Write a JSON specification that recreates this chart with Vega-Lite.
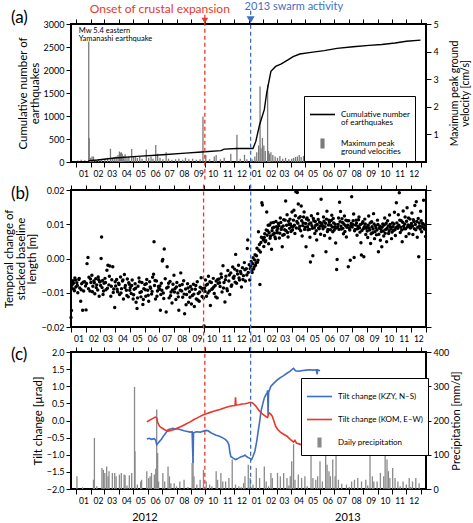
{
  "$schema": "https://vega.github.io/schema/vega-lite/v6.json",
  "background": "white",
  "padding": {"left": 2, "top": 0, "right": 0, "bottom": 0},
  "config": {
    "font": "Lato",
    "view": {"stroke": "black", "strokeWidth": 2},
    "axis": {"domain": false, "grid": false, "tickColor": "black", "tickSize": 5, "tickWidth": 1, "labelColor": "black", "labelFontSize": 9, "titleColor": "black", "titleFontWeight": "normal", "titleFontSize": 11.5, "titleLineHeight": 11.5, "labelPadding": 2, "titlePadding": 3},
    "title": {"anchor": "start", "frame": "group", "dx": -60, "fontSize": 17, "fontWeight": "normal", "color": "black"},
    "legend": {"orient": "none", "strokeColor": "black", "strokeWidth": 1, "fillColor": "white", "padding": 5, "symbolSize": 625, "symbolStrokeWidth": 1.6, "labelFontSize": 8, "labelLimit": 300, "labelOffset": 5, "rowPadding": 3, "labelColor": "black"}
  },
  "datasets": {
    "events": [
      {"event": "onset", "date": "2012-09-30", "label": "Onset of crustal expansion"},
      {"event": "swarm", "date": "2013-01-05", "label": "2013 swarm activity"}
    ],
    "notes": [{"date": "2012-01-28", "label": ["Mw 5.4 eastern", "Yamanashi earthquake"]}],
    "cum": [
      {"date": "2012-01-01", "n": 0}, {"date": "2012-01-27", "n": 10}, {"date": "2012-01-29", "n": 30}, {"date": "2012-02-15", "n": 45},
      {"date": "2012-03-23", "n": 87}, {"date": "2012-05-10", "n": 123}, {"date": "2012-07-03", "n": 159}, {"date": "2012-08-20", "n": 192},
      {"date": "2012-09-23", "n": 217}, {"date": "2012-11-03", "n": 247}, {"date": "2012-11-10", "n": 280}, {"date": "2012-12-07", "n": 292},
      {"date": "2013-01-10", "n": 292}, {"date": "2013-01-16", "n": 448}, {"date": "2013-01-24", "n": 811}, {"date": "2013-02-03", "n": 1137},
      {"date": "2013-02-08", "n": 1500}, {"date": "2013-02-17", "n": 1970}, {"date": "2013-02-27", "n": 2078}, {"date": "2013-03-10", "n": 2130},
      {"date": "2013-03-26", "n": 2224}, {"date": "2013-04-05", "n": 2290}, {"date": "2013-04-19", "n": 2348}, {"date": "2013-05-13", "n": 2383},
      {"date": "2013-06-10", "n": 2420}, {"date": "2013-07-07", "n": 2470}, {"date": "2013-08-10", "n": 2505}, {"date": "2013-09-13", "n": 2535},
      {"date": "2013-10-10", "n": 2555}, {"date": "2013-11-07", "n": 2587}, {"date": "2013-12-01", "n": 2625}, {"date": "2013-12-31", "n": 2650}
    ],
    "pgv": [
      {"date": "2012-01-05", "pgv": 0.05}, {"date": "2012-01-12", "pgv": 0.08}, {"date": "2012-01-20", "pgv": 0.06}, {"date": "2012-01-28", "pgv": 4.37}, {"date": "2012-01-29", "pgv": 0.87},
      {"date": "2012-02-01", "pgv": 0.15}, {"date": "2012-02-04", "pgv": 0.2}, {"date": "2012-02-07", "pgv": 0.2}, {"date": "2012-02-12", "pgv": 0.08}, {"date": "2012-02-18", "pgv": 0.1},
      {"date": "2012-02-24", "pgv": 0.07}, {"date": "2012-03-02", "pgv": 0.12}, {"date": "2012-03-08", "pgv": 0.15}, {"date": "2012-03-14", "pgv": 0.48}, {"date": "2012-03-18", "pgv": 0.12},
      {"date": "2012-03-22", "pgv": 0.18}, {"date": "2012-03-26", "pgv": 0.2}, {"date": "2012-03-30", "pgv": 0.25}, {"date": "2012-04-02", "pgv": 0.38}, {"date": "2012-04-04", "pgv": 0.33},
      {"date": "2012-04-06", "pgv": 0.35}, {"date": "2012-04-08", "pgv": 0.3}, {"date": "2012-04-11", "pgv": 0.22}, {"date": "2012-04-14", "pgv": 0.28}, {"date": "2012-04-18", "pgv": 0.15},
      {"date": "2012-04-22", "pgv": 0.2}, {"date": "2012-04-28", "pgv": 0.47}, {"date": "2012-05-02", "pgv": 0.2}, {"date": "2012-05-06", "pgv": 0.22}, {"date": "2012-05-10", "pgv": 0.15},
      {"date": "2012-05-15", "pgv": 0.18}, {"date": "2012-05-20", "pgv": 0.12}, {"date": "2012-05-29", "pgv": 0.45}, {"date": "2012-06-03", "pgv": 0.15}, {"date": "2012-06-08", "pgv": 0.2},
      {"date": "2012-06-12", "pgv": 0.12}, {"date": "2012-06-18", "pgv": 0.62}, {"date": "2012-06-22", "pgv": 0.3}, {"date": "2012-06-27", "pgv": 0.15}, {"date": "2012-07-03", "pgv": 0.1},
      {"date": "2012-07-10", "pgv": 0.35}, {"date": "2012-07-15", "pgv": 0.12}, {"date": "2012-07-22", "pgv": 0.08}, {"date": "2012-07-30", "pgv": 0.1}, {"date": "2012-08-06", "pgv": 0.12},
      {"date": "2012-08-14", "pgv": 0.08}, {"date": "2012-08-20", "pgv": 0.15}, {"date": "2012-08-27", "pgv": 0.1}, {"date": "2012-09-04", "pgv": 0.12}, {"date": "2012-09-12", "pgv": 0.08},
      {"date": "2012-09-20", "pgv": 0.1}, {"date": "2012-09-26", "pgv": 1.65}, {"date": "2012-10-02", "pgv": 0.25}, {"date": "2012-10-10", "pgv": 0.1}, {"date": "2012-10-20", "pgv": 0.2},
      {"date": "2012-10-24", "pgv": 0.25}, {"date": "2012-11-02", "pgv": 0.1}, {"date": "2012-11-10", "pgv": 0.15}, {"date": "2012-11-24", "pgv": 0.3}, {"date": "2012-12-07", "pgv": 0.99},
      {"date": "2012-12-14", "pgv": 0.12}, {"date": "2012-12-23", "pgv": 0.26}, {"date": "2012-12-28", "pgv": 0.1},
      {"date": "2013-01-08", "pgv": 0.1}, {"date": "2013-01-14", "pgv": 0.2}, {"date": "2013-01-18", "pgv": 0.35}, {"date": "2013-01-22", "pgv": 0.6}, {"date": "2013-01-25", "pgv": 2.74},
      {"date": "2013-01-27", "pgv": 0.5}, {"date": "2013-01-30", "pgv": 0.87}, {"date": "2013-02-02", "pgv": 0.6}, {"date": "2013-02-05", "pgv": 0.4}, {"date": "2013-02-10", "pgv": 2.8},
      {"date": "2013-02-12", "pgv": 0.4}, {"date": "2013-02-14", "pgv": 0.3}, {"date": "2013-02-17", "pgv": 0.35}, {"date": "2013-02-21", "pgv": 0.25}, {"date": "2013-02-26", "pgv": 0.2},
      {"date": "2013-03-03", "pgv": 0.15}, {"date": "2013-03-08", "pgv": 0.22}, {"date": "2013-03-14", "pgv": 0.12}, {"date": "2013-03-20", "pgv": 0.15}, {"date": "2013-03-27", "pgv": 0.1},
      {"date": "2013-04-02", "pgv": 0.12}, {"date": "2013-04-06", "pgv": 0.15}, {"date": "2013-04-10", "pgv": 0.18}, {"date": "2013-04-14", "pgv": 0.2}, {"date": "2013-04-18", "pgv": 0.25},
      {"date": "2013-04-22", "pgv": 0.18}, {"date": "2013-04-27", "pgv": 0.22}, {"date": "2013-05-03", "pgv": 0.12}, {"date": "2013-05-10", "pgv": 0.1}, {"date": "2013-05-18", "pgv": 0.08},
      {"date": "2013-05-26", "pgv": 0.12}, {"date": "2013-06-03", "pgv": 0.1}, {"date": "2013-06-10", "pgv": 0.08}, {"date": "2013-06-15", "pgv": 0.22}, {"date": "2013-06-22", "pgv": 0.1},
      {"date": "2013-07-01", "pgv": 0.15}, {"date": "2013-07-07", "pgv": 0.4}, {"date": "2013-07-12", "pgv": 0.15}, {"date": "2013-07-16", "pgv": 0.32}, {"date": "2013-07-22", "pgv": 0.2},
      {"date": "2013-07-26", "pgv": 0.32}, {"date": "2013-08-01", "pgv": 0.38}, {"date": "2013-08-08", "pgv": 0.12}, {"date": "2013-08-16", "pgv": 0.1}, {"date": "2013-08-24", "pgv": 0.15},
      {"date": "2013-09-02", "pgv": 0.2}, {"date": "2013-09-08", "pgv": 0.38}, {"date": "2013-09-12", "pgv": 0.25}, {"date": "2013-09-20", "pgv": 0.1}, {"date": "2013-10-01", "pgv": 0.2},
      {"date": "2013-10-08", "pgv": 0.1}, {"date": "2013-10-18", "pgv": 0.08}, {"date": "2013-11-01", "pgv": 0.1}, {"date": "2013-11-15", "pgv": 0.08}, {"date": "2013-12-01", "pgv": 0.1},
      {"date": "2013-12-18", "pgv": 0.08}
    ],
    "base": [
      {"date": "2012-01-01", "v": -0.0172}, {"date": "2012-01-02", "v": -0.0152}, {"date": "2012-01-03", "v": -0.0078}, {"date": "2012-01-05", "v": -0.0065}, {"date": "2012-01-07", "v": -0.0090}, {"date": "2012-01-09", "v": -0.0057}, {"date": "2012-01-11", "v": -0.0083}, {"date": "2012-01-13", "v": -0.0071}, {"date": "2012-01-15", "v": -0.0100}, {"date": "2012-01-17", "v": -0.0061}, {"date": "2012-01-19", "v": -0.0086}, {"date": "2012-01-21", "v": -0.0125}, {"date": "2012-01-23", "v": -0.0074}, {"date": "2012-01-25", "v": -0.0151}, {"date": "2012-01-27", "v": -0.0095}, {"date": "2012-01-29", "v": -0.0068}, {"date": "2012-01-31", "v": -0.0080},
      {"date": "2012-02-01", "v": -0.0150}, {"date": "2012-02-03", "v": -0.0015}, {"date": "2012-02-05", "v": 0.0003}, {"date": "2012-02-07", "v": -0.0055}, {"date": "2012-02-09", "v": -0.0095}, {"date": "2012-02-11", "v": -0.0070}, {"date": "2012-02-13", "v": -0.0049}, {"date": "2012-02-15", "v": -0.0081}, {"date": "2012-02-17", "v": -0.0066}, {"date": "2012-02-19", "v": -0.0103}, {"date": "2012-02-21", "v": -0.0059}, {"date": "2012-02-23", "v": -0.0077}, {"date": "2012-02-25", "v": -0.0092}, {"date": "2012-02-27", "v": -0.0062}, {"date": "2012-02-29", "v": -0.0068},
      {"date": "2012-03-01", "v": -0.0068}, {"date": "2012-03-03", "v": 0.0000}, {"date": "2012-03-04", "v": 0.0063}, {"date": "2012-03-05", "v": -0.0085}, {"date": "2012-03-07", "v": -0.0105}, {"date": "2012-03-09", "v": -0.0072}, {"date": "2012-03-11", "v": -0.0058}, {"date": "2012-03-13", "v": -0.0091}, {"date": "2012-03-15", "v": -0.0034}, {"date": "2012-03-17", "v": -0.0020}, {"date": "2012-03-19", "v": -0.0077}, {"date": "2012-03-21", "v": -0.0022}, {"date": "2012-03-23", "v": -0.0110}, {"date": "2012-03-25", "v": -0.0062}, {"date": "2012-03-27", "v": -0.0024}, {"date": "2012-03-29", "v": -0.0089}, {"date": "2012-03-31", "v": -0.0143},
      {"date": "2012-04-02", "v": -0.0080}, {"date": "2012-04-04", "v": -0.0061}, {"date": "2012-04-06", "v": -0.0097}, {"date": "2012-04-08", "v": -0.0072}, {"date": "2012-04-10", "v": -0.0105}, {"date": "2012-04-12", "v": -0.0054}, {"date": "2012-04-14", "v": -0.0088}, {"date": "2012-04-16", "v": -0.0066}, {"date": "2012-04-18", "v": -0.0118}, {"date": "2012-04-20", "v": -0.0047}, {"date": "2012-04-22", "v": -0.0079}, {"date": "2012-04-24", "v": -0.0093}, {"date": "2012-04-26", "v": -0.0060}, {"date": "2012-04-28", "v": -0.0112}, {"date": "2012-04-30", "v": -0.0075},
      {"date": "2012-05-02", "v": -0.0085}, {"date": "2012-05-04", "v": -0.0102}, {"date": "2012-05-06", "v": -0.0063}, {"date": "2012-05-08", "v": -0.0118}, {"date": "2012-05-10", "v": -0.0090}, {"date": "2012-05-12", "v": -0.0074}, {"date": "2012-05-14", "v": -0.0128}, {"date": "2012-05-16", "v": -0.0146}, {"date": "2012-05-18", "v": -0.0081}, {"date": "2012-05-20", "v": -0.0057}, {"date": "2012-05-22", "v": -0.0099}, {"date": "2012-05-24", "v": -0.0112}, {"date": "2012-05-26", "v": -0.0070}, {"date": "2012-05-28", "v": -0.0134}, {"date": "2012-05-30", "v": -0.0088},
      {"date": "2012-06-01", "v": -0.0076}, {"date": "2012-06-03", "v": -0.0110}, {"date": "2012-06-05", "v": -0.0061}, {"date": "2012-06-07", "v": -0.0093}, {"date": "2012-06-09", "v": -0.0125}, {"date": "2012-06-11", "v": -0.0068}, {"date": "2012-06-13", "v": -0.0087}, {"date": "2012-06-15", "v": -0.0104}, {"date": "2012-06-17", "v": -0.0055}, {"date": "2012-06-19", "v": -0.0046}, {"date": "2012-06-20", "v": 0.0049}, {"date": "2012-06-21", "v": -0.0079}, {"date": "2012-06-23", "v": -0.0118}, {"date": "2012-06-25", "v": -0.0066}, {"date": "2012-06-27", "v": -0.0095}, {"date": "2012-06-29", "v": -0.0082},
      {"date": "2012-07-01", "v": -0.0090}, {"date": "2012-07-03", "v": -0.0151}, {"date": "2012-07-05", "v": -0.0072}, {"date": "2012-07-07", "v": -0.0007}, {"date": "2012-07-08", "v": -0.0003}, {"date": "2012-07-09", "v": -0.0101}, {"date": "2012-07-11", "v": 0.0028}, {"date": "2012-07-13", "v": -0.0059}, {"date": "2012-07-15", "v": -0.0156}, {"date": "2012-07-17", "v": -0.0024}, {"date": "2012-07-19", "v": -0.0083}, {"date": "2012-07-21", "v": -0.0115}, {"date": "2012-07-23", "v": -0.0067}, {"date": "2012-07-25", "v": -0.0098}, {"date": "2012-07-27", "v": -0.0130}, {"date": "2012-07-29", "v": -0.0075}, {"date": "2012-07-31", "v": -0.0049},
      {"date": "2012-08-02", "v": -0.0088}, {"date": "2012-08-04", "v": -0.0120}, {"date": "2012-08-06", "v": -0.0070}, {"date": "2012-08-08", "v": -0.0101}, {"date": "2012-08-10", "v": -0.0151}, {"date": "2012-08-12", "v": -0.0079}, {"date": "2012-08-14", "v": -0.0042}, {"date": "2012-08-16", "v": -0.0095}, {"date": "2012-08-18", "v": -0.0113}, {"date": "2012-08-20", "v": -0.0065}, {"date": "2012-08-22", "v": -0.0161}, {"date": "2012-08-24", "v": -0.0089}, {"date": "2012-08-26", "v": -0.0105}, {"date": "2012-08-28", "v": -0.0074}, {"date": "2012-08-30", "v": -0.0128},
      {"date": "2012-09-01", "v": -0.0097}, {"date": "2012-09-03", "v": -0.0082}, {"date": "2012-09-05", "v": -0.0133}, {"date": "2012-09-07", "v": -0.0108}, {"date": "2012-09-09", "v": -0.0075}, {"date": "2012-09-11", "v": -0.0140}, {"date": "2012-09-13", "v": -0.0090}, {"date": "2012-09-15", "v": -0.0118}, {"date": "2012-09-17", "v": -0.0068}, {"date": "2012-09-19", "v": -0.0102}, {"date": "2012-09-21", "v": -0.0125}, {"date": "2012-09-23", "v": -0.0084}, {"date": "2012-09-25", "v": -0.0056}, {"date": "2012-09-27", "v": -0.0111}, {"date": "2012-09-29", "v": -0.0093},
      {"date": "2012-10-01", "v": -0.0197}, {"date": "2012-10-02", "v": -0.0087}, {"date": "2012-10-04", "v": -0.0063}, {"date": "2012-10-06", "v": -0.0110}, {"date": "2012-10-08", "v": -0.0075}, {"date": "2012-10-10", "v": -0.0052}, {"date": "2012-10-12", "v": -0.0095}, {"date": "2012-10-14", "v": -0.0137}, {"date": "2012-10-16", "v": -0.0070}, {"date": "2012-10-18", "v": -0.0088}, {"date": "2012-10-20", "v": -0.0058}, {"date": "2012-10-22", "v": -0.0102}, {"date": "2012-10-24", "v": -0.0079}, {"date": "2012-10-26", "v": -0.0066}, {"date": "2012-10-28", "v": -0.0115}, {"date": "2012-10-30", "v": -0.0072},
      {"date": "2012-11-01", "v": -0.0060}, {"date": "2012-11-03", "v": -0.0082}, {"date": "2012-11-05", "v": -0.0045}, {"date": "2012-11-07", "v": -0.0098}, {"date": "2012-11-09", "v": -0.0021}, {"date": "2012-11-11", "v": -0.0070}, {"date": "2012-11-13", "v": -0.0127}, {"date": "2012-11-15", "v": -0.0052}, {"date": "2012-11-17", "v": -0.0088}, {"date": "2012-11-19", "v": -0.0035}, {"date": "2012-11-21", "v": -0.0066}, {"date": "2012-11-23", "v": -0.0105}, {"date": "2012-11-25", "v": -0.0042}, {"date": "2012-11-27", "v": -0.0077}, {"date": "2012-11-29", "v": -0.0025},
      {"date": "2012-12-01", "v": -0.0058}, {"date": "2012-12-03", "v": -0.0031}, {"date": "2012-12-05", "v": 0.0012}, {"date": "2012-12-07", "v": -0.0072}, {"date": "2012-12-09", "v": -0.0045}, {"date": "2012-12-11", "v": -0.0020}, {"date": "2012-12-13", "v": -0.0063}, {"date": "2012-12-15", "v": -0.0038}, {"date": "2012-12-17", "v": -0.0083}, {"date": "2012-12-19", "v": -0.0027}, {"date": "2012-12-21", "v": -0.0050}, {"date": "2012-12-23", "v": -0.0012}, {"date": "2012-12-25", "v": -0.0066}, {"date": "2012-12-27", "v": -0.0030}, {"date": "2012-12-29", "v": 0.0029}, {"date": "2012-12-30", "v": 0.0054}, {"date": "2012-12-31", "v": -0.0041},
      {"date": "2013-01-02", "v": -0.0018}, {"date": "2013-01-03", "v": -0.0063}, {"date": "2013-01-04", "v": -0.0030}, {"date": "2013-01-06", "v": -0.0009}, {"date": "2013-01-08", "v": -0.0041}, {"date": "2013-01-10", "v": 0.0002}, {"date": "2013-01-12", "v": -0.0025}, {"date": "2013-01-14", "v": 0.0011}, {"date": "2013-01-16", "v": -0.0012}, {"date": "2013-01-18", "v": 0.0030}, {"date": "2013-01-20", "v": -0.0005}, {"date": "2013-01-21", "v": 0.0078}, {"date": "2013-01-22", "v": 0.0024}, {"date": "2013-01-24", "v": -0.0076}, {"date": "2013-01-26", "v": 0.0047}, {"date": "2013-01-28", "v": 0.0163}, {"date": "2013-01-29", "v": 0.0156}, {"date": "2013-01-30", "v": 0.0060},
      {"date": "2013-02-01", "v": 0.0035}, {"date": "2013-02-03", "v": 0.0072}, {"date": "2013-02-05", "v": 0.0052}, {"date": "2013-02-07", "v": 0.0136}, {"date": "2013-02-09", "v": 0.0081}, {"date": "2013-02-11", "v": 0.0043}, {"date": "2013-02-13", "v": 0.0098}, {"date": "2013-02-15", "v": 0.0066}, {"date": "2013-02-17", "v": 0.0027}, {"date": "2013-02-19", "v": 0.0089}, {"date": "2013-02-21", "v": 0.0105}, {"date": "2013-02-23", "v": 0.0074}, {"date": "2013-02-25", "v": 0.0058}, {"date": "2013-02-27", "v": 0.0093},
      {"date": "2013-03-01", "v": 0.0075}, {"date": "2013-03-03", "v": 0.0102}, {"date": "2013-03-05", "v": 0.0060}, {"date": "2013-03-07", "v": 0.0118}, {"date": "2013-03-09", "v": 0.0085}, {"date": "2013-03-11", "v": 0.0034}, {"date": "2013-03-13", "v": 0.0095}, {"date": "2013-03-15", "v": 0.0070}, {"date": "2013-03-17", "v": 0.0112}, {"date": "2013-03-18", "v": 0.0168}, {"date": "2013-03-19", "v": 0.0081}, {"date": "2013-03-21", "v": 0.0128}, {"date": "2013-03-23", "v": 0.0063}, {"date": "2013-03-25", "v": 0.0099}, {"date": "2013-03-27", "v": 0.0115}, {"date": "2013-03-29", "v": 0.0079}, {"date": "2013-03-31", "v": 0.0136},
      {"date": "2013-04-02", "v": 0.0092}, {"date": "2013-04-04", "v": 0.0141}, {"date": "2013-04-06", "v": 0.0073}, {"date": "2013-04-08", "v": 0.0195}, {"date": "2013-04-10", "v": 0.0108}, {"date": "2013-04-11", "v": 0.0193}, {"date": "2013-04-13", "v": 0.0159}, {"date": "2013-04-15", "v": 0.0087}, {"date": "2013-04-17", "v": 0.0122}, {"date": "2013-04-19", "v": 0.0153}, {"date": "2013-04-21", "v": 0.0066}, {"date": "2013-04-23", "v": 0.0104}, {"date": "2013-04-25", "v": 0.0136}, {"date": "2013-04-27", "v": 0.0091}, {"date": "2013-04-29", "v": 0.0034},
      {"date": "2013-05-01", "v": 0.0118}, {"date": "2013-05-03", "v": 0.0084}, {"date": "2013-05-05", "v": 0.0101}, {"date": "2013-05-07", "v": 0.0062}, {"date": "2013-05-08", "v": -0.0010}, {"date": "2013-05-10", "v": 0.0125}, {"date": "2013-05-12", "v": 0.0088}, {"date": "2013-05-13", "v": 0.0008}, {"date": "2013-05-15", "v": 0.0110}, {"date": "2013-05-17", "v": 0.0073}, {"date": "2013-05-19", "v": 0.0097}, {"date": "2013-05-21", "v": 0.0054}, {"date": "2013-05-23", "v": 0.0131}, {"date": "2013-05-25", "v": 0.0089}, {"date": "2013-05-27", "v": 0.0106}, {"date": "2013-05-29", "v": 0.0071}, {"date": "2013-05-30", "v": 0.0173},
      {"date": "2013-06-02", "v": 0.0094}, {"date": "2013-06-04", "v": 0.0121}, {"date": "2013-06-06", "v": 0.0067}, {"date": "2013-06-08", "v": 0.0103}, {"date": "2013-06-09", "v": 0.0020}, {"date": "2013-06-11", "v": 0.0138}, {"date": "2013-06-13", "v": 0.0085}, {"date": "2013-06-15", "v": 0.0112}, {"date": "2013-06-17", "v": 0.0059}, {"date": "2013-06-19", "v": 0.0097}, {"date": "2013-06-21", "v": 0.0126}, {"date": "2013-06-23", "v": 0.0078}, {"date": "2013-06-25", "v": 0.0104}, {"date": "2013-06-27", "v": 0.0091}, {"date": "2013-06-29", "v": 0.0045},
      {"date": "2013-07-01", "v": -0.0032}, {"date": "2013-07-02", "v": -0.0003}, {"date": "2013-07-03", "v": 0.0092}, {"date": "2013-07-05", "v": 0.0118}, {"date": "2013-07-07", "v": 0.0164}, {"date": "2013-07-09", "v": 0.0137}, {"date": "2013-07-11", "v": 0.0086}, {"date": "2013-07-13", "v": 0.0105}, {"date": "2013-07-15", "v": 0.0072}, {"date": "2013-07-17", "v": 0.0124}, {"date": "2013-07-19", "v": 0.0096}, {"date": "2013-07-21", "v": 0.0063}, {"date": "2013-07-23", "v": 0.0110}, {"date": "2013-07-25", "v": -0.0024}, {"date": "2013-07-27", "v": 0.0088}, {"date": "2013-07-29", "v": -0.0005}, {"date": "2013-07-31", "v": 0.0102},
      {"date": "2013-08-01", "v": 0.0180}, {"date": "2013-08-03", "v": 0.0099}, {"date": "2013-08-05", "v": 0.0130}, {"date": "2013-08-06", "v": 0.0003}, {"date": "2013-08-08", "v": 0.0085}, {"date": "2013-08-10", "v": 0.0112}, {"date": "2013-08-12", "v": 0.0068}, {"date": "2013-08-14", "v": 0.0094}, {"date": "2013-08-16", "v": 0.0121}, {"date": "2013-08-18", "v": 0.0077}, {"date": "2013-08-20", "v": 0.0046}, {"date": "2013-08-21", "v": 0.0010}, {"date": "2013-08-23", "v": 0.0103}, {"date": "2013-08-25", "v": 0.0087}, {"date": "2013-08-26", "v": 0.0005}, {"date": "2013-08-28", "v": 0.0115}, {"date": "2013-08-30", "v": 0.0070},
      {"date": "2013-09-01", "v": 0.0092}, {"date": "2013-09-03", "v": 0.0061}, {"date": "2013-09-05", "v": 0.0124}, {"date": "2013-09-07", "v": 0.0083}, {"date": "2013-09-09", "v": 0.0044}, {"date": "2013-09-11", "v": 0.0107}, {"date": "2013-09-13", "v": 0.0075}, {"date": "2013-09-15", "v": 0.0131}, {"date": "2013-09-17", "v": 0.0058}, {"date": "2013-09-19", "v": 0.0096}, {"date": "2013-09-21", "v": 0.0069}, {"date": "2013-09-23", "v": 0.0112}, {"date": "2013-09-25", "v": 0.0020}, {"date": "2013-09-27", "v": 0.0088}, {"date": "2013-09-29", "v": 0.0053},
      {"date": "2013-10-01", "v": 0.0079}, {"date": "2013-10-02", "v": 0.0034}, {"date": "2013-10-04", "v": 0.0101}, {"date": "2013-10-06", "v": 0.0066}, {"date": "2013-10-08", "v": 0.0118}, {"date": "2013-10-10", "v": 0.0085}, {"date": "2013-10-12", "v": 0.0049}, {"date": "2013-10-14", "v": 0.0110}, {"date": "2013-10-16", "v": 0.0073}, {"date": "2013-10-18", "v": 0.0127}, {"date": "2013-10-20", "v": 0.0091}, {"date": "2013-10-22", "v": 0.0058}, {"date": "2013-10-24", "v": 0.0104}, {"date": "2013-10-26", "v": 0.0082}, {"date": "2013-10-28", "v": 0.0135}, {"date": "2013-10-30", "v": 0.0067},
      {"date": "2013-11-01", "v": 0.0163}, {"date": "2013-11-03", "v": 0.0093}, {"date": "2013-11-05", "v": 0.0128}, {"date": "2013-11-07", "v": 0.0192}, {"date": "2013-11-09", "v": 0.0076}, {"date": "2013-11-11", "v": 0.0110}, {"date": "2013-11-13", "v": 0.0049}, {"date": "2013-11-15", "v": 0.0139}, {"date": "2013-11-17", "v": 0.0087}, {"date": "2013-11-19", "v": 0.0121}, {"date": "2013-11-21", "v": 0.0064}, {"date": "2013-11-23", "v": 0.0148}, {"date": "2013-11-25", "v": 0.0098}, {"date": "2013-11-27", "v": 0.0072}, {"date": "2013-11-29", "v": 0.0115},
      {"date": "2013-12-01", "v": 0.0091}, {"date": "2013-12-03", "v": 0.0133}, {"date": "2013-12-05", "v": 0.0070}, {"date": "2013-12-07", "v": 0.0108}, {"date": "2013-12-09", "v": 0.0155}, {"date": "2013-12-11", "v": 0.0084}, {"date": "2013-12-12", "v": 0.0166}, {"date": "2013-12-14", "v": 0.0062}, {"date": "2013-12-16", "v": 0.0117}, {"date": "2013-12-17", "v": 0.0005}, {"date": "2013-12-19", "v": 0.0095}, {"date": "2013-12-21", "v": 0.0138}, {"date": "2013-12-23", "v": 0.0078}, {"date": "2013-12-25", "v": 0.0102}, {"date": "2013-12-27", "v": 0.0170}, {"date": "2013-12-29", "v": 0.0086}, {"date": "2013-12-31", "v": 0.0064},
      {"date": "2012-01-04", "v": -0.0088}, {"date": "2012-01-06", "v": -0.0072}, {"date": "2012-01-08", "v": -0.0094}, {"date": "2012-01-10", "v": -0.0063}, {"date": "2012-01-14", "v": -0.0079}, {"date": "2012-01-18", "v": -0.0058}, {"date": "2012-01-22", "v": -0.0091}, {"date": "2012-01-26", "v": -0.0069},
      {"date": "2012-02-02", "v": -0.0073}, {"date": "2012-02-06", "v": -0.0088}, {"date": "2012-02-10", "v": -0.0060}, {"date": "2012-02-14", "v": -0.0097}, {"date": "2012-02-18", "v": -0.0071}, {"date": "2012-02-22", "v": -0.0085}, {"date": "2012-02-26", "v": -0.0054}, {"date": "2012-02-28", "v": -0.0110},
      {"date": "2012-03-02", "v": -0.0079}, {"date": "2012-03-06", "v": -0.0064}, {"date": "2012-03-08", "v": -0.0095}, {"date": "2012-03-12", "v": -0.0070}, {"date": "2012-03-16", "v": -0.0087}, {"date": "2012-03-20", "v": -0.0052}, {"date": "2012-03-24", "v": -0.0081}, {"date": "2012-03-28", "v": -0.0099},
      {"date": "2012-04-01", "v": -0.0068}, {"date": "2012-04-05", "v": -0.0090}, {"date": "2012-04-09", "v": -0.0076}, {"date": "2012-04-13", "v": -0.0101}, {"date": "2012-04-17", "v": -0.0063}, {"date": "2012-04-21", "v": -0.0085}, {"date": "2012-04-25", "v": -0.0108}, {"date": "2012-04-29", "v": -0.0071},
      {"date": "2012-05-01", "v": -0.0093}, {"date": "2012-05-05", "v": -0.0079}, {"date": "2012-05-09", "v": -0.0106}, {"date": "2012-05-13", "v": -0.0087}, {"date": "2012-05-17", "v": -0.0115}, {"date": "2012-05-21", "v": -0.0068}, {"date": "2012-05-25", "v": -0.0097}, {"date": "2012-05-29", "v": -0.0120},
      {"date": "2012-06-02", "v": -0.0091}, {"date": "2012-06-04", "v": -0.0074}, {"date": "2012-06-08", "v": -0.0107}, {"date": "2012-06-12", "v": -0.0083}, {"date": "2012-06-16", "v": -0.0096}, {"date": "2012-06-22", "v": -0.0064}, {"date": "2012-06-26", "v": -0.0110}, {"date": "2012-06-30", "v": -0.0088},
      {"date": "2012-07-02", "v": -0.0080}, {"date": "2012-07-04", "v": -0.0105}, {"date": "2012-07-06", "v": -0.0093}, {"date": "2012-07-10", "v": -0.0117}, {"date": "2012-07-16", "v": -0.0086}, {"date": "2012-07-20", "v": -0.0072}, {"date": "2012-07-24", "v": -0.0109}, {"date": "2012-07-28", "v": -0.0092},
      {"date": "2012-08-01", "v": -0.0098}, {"date": "2012-08-05", "v": -0.0083}, {"date": "2012-08-09", "v": -0.0112}, {"date": "2012-08-13", "v": -0.0093}, {"date": "2012-08-17", "v": -0.0076}, {"date": "2012-08-21", "v": -0.0104}, {"date": "2012-08-25", "v": -0.0135}, {"date": "2012-08-29", "v": -0.0086},
      {"date": "2012-09-02", "v": -0.0113}, {"date": "2012-09-06", "v": -0.0090}, {"date": "2012-09-10", "v": -0.0104}, {"date": "2012-09-14", "v": -0.0079}, {"date": "2012-09-18", "v": -0.0121}, {"date": "2012-09-22", "v": -0.0098}, {"date": "2012-09-26", "v": -0.0087}, {"date": "2012-09-30", "v": -0.0115},
      {"date": "2012-10-03", "v": -0.0096}, {"date": "2012-10-05", "v": -0.0078}, {"date": "2012-10-09", "v": -0.0101}, {"date": "2012-10-13", "v": -0.0068}, {"date": "2012-10-17", "v": -0.0090}, {"date": "2012-10-21", "v": -0.0083}, {"date": "2012-10-25", "v": -0.0112}, {"date": "2012-10-29", "v": -0.0061},
      {"date": "2012-11-02", "v": -0.0071}, {"date": "2012-11-06", "v": -0.0055}, {"date": "2012-11-10", "v": -0.0086}, {"date": "2012-11-14", "v": -0.0062}, {"date": "2012-11-18", "v": -0.0094}, {"date": "2012-11-22", "v": -0.0048}, {"date": "2012-11-26", "v": -0.0081}, {"date": "2012-11-30", "v": -0.0056},
      {"date": "2012-12-02", "v": -0.0052}, {"date": "2012-12-04", "v": -0.0069}, {"date": "2012-12-08", "v": -0.0036}, {"date": "2012-12-12", "v": -0.0057}, {"date": "2012-12-16", "v": -0.0044}, {"date": "2012-12-20", "v": -0.0061}, {"date": "2012-12-24", "v": -0.0033}, {"date": "2012-12-28", "v": -0.0048},
      {"date": "2013-01-05", "v": -0.0022}, {"date": "2013-01-07", "v": -0.0036}, {"date": "2013-01-09", "v": -0.0015}, {"date": "2013-01-11", "v": -0.0031}, {"date": "2013-01-13", "v": -0.0004}, {"date": "2013-01-15", "v": -0.0020}, {"date": "2013-01-17", "v": 0.0008}, {"date": "2013-01-19", "v": -0.0011}, {"date": "2013-01-23", "v": 0.0041}, {"date": "2013-01-25", "v": 0.0019}, {"date": "2013-01-27", "v": 0.0062}, {"date": "2013-01-31", "v": 0.0054},
      {"date": "2013-02-02", "v": 0.0061}, {"date": "2013-02-04", "v": 0.0049}, {"date": "2013-02-06", "v": 0.0083}, {"date": "2013-02-08", "v": 0.0068}, {"date": "2013-02-10", "v": 0.0097}, {"date": "2013-02-12", "v": 0.0075}, {"date": "2013-02-14", "v": 0.0059}, {"date": "2013-02-16", "v": 0.0104}, {"date": "2013-02-18", "v": 0.0081}, {"date": "2013-02-20", "v": 0.0070}, {"date": "2013-02-22", "v": 0.0091}, {"date": "2013-02-24", "v": 0.0063}, {"date": "2013-02-26", "v": 0.0108}, {"date": "2013-02-28", "v": 0.0082},
      {"date": "2013-03-02", "v": 0.0088}, {"date": "2013-03-04", "v": 0.0096}, {"date": "2013-03-06", "v": 0.0074}, {"date": "2013-03-08", "v": 0.0105}, {"date": "2013-03-10", "v": 0.0091}, {"date": "2013-03-12", "v": 0.0068}, {"date": "2013-03-14", "v": 0.0113}, {"date": "2013-03-16", "v": 0.0084}, {"date": "2013-03-20", "v": 0.0097}, {"date": "2013-03-22", "v": 0.0076}, {"date": "2013-03-24", "v": 0.0109}, {"date": "2013-03-26", "v": 0.0088}, {"date": "2013-03-28", "v": 0.0101}, {"date": "2013-03-30", "v": 0.0094},
      {"date": "2013-04-01", "v": 0.0083}, {"date": "2013-04-03", "v": 0.0112}, {"date": "2013-04-05", "v": 0.0097}, {"date": "2013-04-07", "v": 0.0125}, {"date": "2013-04-09", "v": 0.0089}, {"date": "2013-04-12", "v": 0.0103}, {"date": "2013-04-14", "v": 0.0118}, {"date": "2013-04-16", "v": 0.0094}, {"date": "2013-04-18", "v": 0.0081}, {"date": "2013-04-20", "v": 0.0110}, {"date": "2013-04-22", "v": 0.0096}, {"date": "2013-04-24", "v": 0.0121}, {"date": "2013-04-26", "v": 0.0085}, {"date": "2013-04-28", "v": 0.0102}, {"date": "2013-04-30", "v": 0.0115},
      {"date": "2013-05-02", "v": 0.0093}, {"date": "2013-05-04", "v": 0.0112}, {"date": "2013-05-06", "v": 0.0085}, {"date": "2013-05-09", "v": 0.0104}, {"date": "2013-05-11", "v": 0.0096}, {"date": "2013-05-14", "v": 0.0117}, {"date": "2013-05-16", "v": 0.0090}, {"date": "2013-05-18", "v": 0.0108}, {"date": "2013-05-20", "v": 0.0081}, {"date": "2013-05-22", "v": 0.0099}, {"date": "2013-05-24", "v": 0.0114}, {"date": "2013-05-26", "v": 0.0087}, {"date": "2013-05-28", "v": 0.0095}, {"date": "2013-05-31", "v": 0.0103},
      {"date": "2013-06-01", "v": 0.0101}, {"date": "2013-06-03", "v": 0.0087}, {"date": "2013-06-05", "v": 0.0109}, {"date": "2013-06-07", "v": 0.0093}, {"date": "2013-06-10", "v": 0.0115}, {"date": "2013-06-12", "v": 0.0079}, {"date": "2013-06-14", "v": 0.0098}, {"date": "2013-06-16", "v": 0.0106}, {"date": "2013-06-18", "v": 0.0084}, {"date": "2013-06-20", "v": 0.0111}, {"date": "2013-06-22", "v": 0.0092}, {"date": "2013-06-24", "v": 0.0117}, {"date": "2013-06-26", "v": 0.0083}, {"date": "2013-06-28", "v": 0.0100}, {"date": "2013-06-30", "v": 0.0089},
      {"date": "2013-07-04", "v": 0.0099}, {"date": "2013-07-06", "v": 0.0085}, {"date": "2013-07-08", "v": 0.0107}, {"date": "2013-07-10", "v": 0.0094}, {"date": "2013-07-12", "v": 0.0116}, {"date": "2013-07-14", "v": 0.0088}, {"date": "2013-07-16", "v": 0.0101}, {"date": "2013-07-18", "v": 0.0079}, {"date": "2013-07-20", "v": 0.0112}, {"date": "2013-07-22", "v": 0.0091}, {"date": "2013-07-24", "v": 0.0097}, {"date": "2013-07-26", "v": 0.0110}, {"date": "2013-07-28", "v": 0.0083}, {"date": "2013-07-30", "v": 0.0095},
      {"date": "2013-08-02", "v": 0.0092}, {"date": "2013-08-04", "v": 0.0110}, {"date": "2013-08-07", "v": 0.0081}, {"date": "2013-08-09", "v": 0.0098}, {"date": "2013-08-11", "v": 0.0104}, {"date": "2013-08-13", "v": 0.0087}, {"date": "2013-08-15", "v": 0.0113}, {"date": "2013-08-17", "v": 0.0090}, {"date": "2013-08-19", "v": 0.0099}, {"date": "2013-08-22", "v": 0.0082}, {"date": "2013-08-24", "v": 0.0107}, {"date": "2013-08-27", "v": 0.0093}, {"date": "2013-08-29", "v": 0.0101}, {"date": "2013-08-31", "v": 0.0088},
      {"date": "2013-09-02", "v": 0.0080}, {"date": "2013-09-04", "v": 0.0097}, {"date": "2013-09-06", "v": 0.0089}, {"date": "2013-09-08", "v": 0.0104}, {"date": "2013-09-10", "v": 0.0072}, {"date": "2013-09-12", "v": 0.0093}, {"date": "2013-09-14", "v": 0.0086}, {"date": "2013-09-16", "v": 0.0101}, {"date": "2013-09-18", "v": 0.0078}, {"date": "2013-09-20", "v": 0.0090}, {"date": "2013-09-22", "v": 0.0083}, {"date": "2013-09-24", "v": 0.0099}, {"date": "2013-09-26", "v": 0.0071}, {"date": "2013-09-28", "v": 0.0094}, {"date": "2013-09-30", "v": 0.0087},
      {"date": "2013-10-03", "v": 0.0092}, {"date": "2013-10-05", "v": 0.0080}, {"date": "2013-10-07", "v": 0.0098}, {"date": "2013-10-09", "v": 0.0074}, {"date": "2013-10-11", "v": 0.0103}, {"date": "2013-10-13", "v": 0.0088}, {"date": "2013-10-15", "v": 0.0095}, {"date": "2013-10-17", "v": 0.0081}, {"date": "2013-10-19", "v": 0.0099}, {"date": "2013-10-21", "v": 0.0086}, {"date": "2013-10-23", "v": 0.0077}, {"date": "2013-10-25", "v": 0.0093}, {"date": "2013-10-27", "v": 0.0101}, {"date": "2013-10-29", "v": 0.0084}, {"date": "2013-10-31", "v": 0.0090},
      {"date": "2013-11-02", "v": 0.0104}, {"date": "2013-11-04", "v": 0.0088}, {"date": "2013-11-06", "v": 0.0097}, {"date": "2013-11-08", "v": 0.0112}, {"date": "2013-11-10", "v": 0.0091}, {"date": "2013-11-12", "v": 0.0083}, {"date": "2013-11-14", "v": 0.0106}, {"date": "2013-11-16", "v": 0.0094}, {"date": "2013-11-18", "v": 0.0101}, {"date": "2013-11-20", "v": 0.0087}, {"date": "2013-11-22", "v": 0.0109}, {"date": "2013-11-24", "v": 0.0092}, {"date": "2013-11-26", "v": 0.0118}, {"date": "2013-11-28", "v": 0.0096}, {"date": "2013-11-30", "v": 0.0089},
      {"date": "2013-12-02", "v": 0.0102}, {"date": "2013-12-04", "v": 0.0095}, {"date": "2013-12-06", "v": 0.0113}, {"date": "2013-12-08", "v": 0.0087}, {"date": "2013-12-10", "v": 0.0099}, {"date": "2013-12-13", "v": 0.0108}, {"date": "2013-12-15", "v": 0.0091}, {"date": "2013-12-18", "v": 0.0104}, {"date": "2013-12-20", "v": 0.0086}, {"date": "2013-12-22", "v": 0.0110}, {"date": "2013-12-24", "v": 0.0093}, {"date": "2013-12-26", "v": 0.0101}, {"date": "2013-12-28", "v": 0.0089}, {"date": "2013-12-30", "v": 0.0097}
    ],
    "kzy": [
      {"date": "2012-05-30", "tilt": -0.54}, {"date": "2012-06-04", "tilt": -0.52}, {"date": "2012-06-09", "tilt": -0.55}, {"date": "2012-06-15", "tilt": -0.53}, {"date": "2012-06-18", "tilt": -0.58}, {"date": "2012-06-20", "tilt": -0.71}, {"date": "2012-06-23", "tilt": -0.66}, {"date": "2012-06-26", "tilt": -0.61}, {"date": "2012-06-30", "tilt": -0.55},
      {"date": "2012-07-04", "tilt": -0.46}, {"date": "2012-07-07", "tilt": -0.41}, {"date": "2012-07-11", "tilt": -0.33}, {"date": "2012-07-14", "tilt": -0.27}, {"date": "2012-07-19", "tilt": -0.25}, {"date": "2012-07-24", "tilt": -0.23}, {"date": "2012-07-29", "tilt": -0.25},
      {"date": "2012-08-03", "tilt": -0.24}, {"date": "2012-08-10", "tilt": -0.27}, {"date": "2012-08-17", "tilt": -0.30}, {"date": "2012-08-24", "tilt": -0.32}, {"date": "2012-08-30", "tilt": -0.34}, {"date": "2012-09-03", "tilt": -0.33}, {"date": "2012-09-05", "tilt": -1.24}, {"date": "2012-09-06", "tilt": -0.36},
      {"date": "2012-09-12", "tilt": -0.33}, {"date": "2012-09-20", "tilt": -0.34}, {"date": "2012-09-27", "tilt": -0.31}, {"date": "2012-10-03", "tilt": -0.29}, {"date": "2012-10-07", "tilt": -0.30}, {"date": "2012-10-12", "tilt": -0.35}, {"date": "2012-10-17", "tilt": -0.39}, {"date": "2012-10-24", "tilt": -0.43},
      {"date": "2012-10-31", "tilt": -0.46}, {"date": "2012-11-06", "tilt": -0.50}, {"date": "2012-11-13", "tilt": -0.56}, {"date": "2012-11-17", "tilt": -0.62}, {"date": "2012-11-20", "tilt": -0.71}, {"date": "2012-11-22", "tilt": -0.92}, {"date": "2012-11-24", "tilt": -1.05}, {"date": "2012-11-29", "tilt": -1.10},
      {"date": "2012-12-04", "tilt": -1.14}, {"date": "2012-12-08", "tilt": -1.12}, {"date": "2012-12-11", "tilt": -1.09}, {"date": "2012-12-16", "tilt": -1.06}, {"date": "2012-12-21", "tilt": -1.04}, {"date": "2012-12-24", "tilt": -1.01}, {"date": "2012-12-28", "tilt": -1.06},
      {"date": "2013-01-01", "tilt": -1.09}, {"date": "2013-01-05", "tilt": -1.12}, {"date": "2013-01-07", "tilt": -1.14}, {"date": "2013-01-10", "tilt": -1.05}, {"date": "2013-01-14", "tilt": -0.90}, {"date": "2013-01-18", "tilt": -0.60}, {"date": "2013-01-21", "tilt": -0.32}, {"date": "2013-01-24", "tilt": -0.05},
      {"date": "2013-01-27", "tilt": 0.27}, {"date": "2013-01-31", "tilt": 0.50}, {"date": "2013-02-03", "tilt": 0.66}, {"date": "2013-02-06", "tilt": 0.75}, {"date": "2013-02-09", "tilt": 0.80}, {"date": "2013-02-10", "tilt": 0.88}, {"date": "2013-02-11", "tilt": 0.17}, {"date": "2013-02-12", "tilt": 0.82},
      {"date": "2013-02-17", "tilt": 1.00}, {"date": "2013-02-24", "tilt": 1.10}, {"date": "2013-03-03", "tilt": 1.19}, {"date": "2013-03-09", "tilt": 1.25}, {"date": "2013-03-16", "tilt": 1.31}, {"date": "2013-03-23", "tilt": 1.38}, {"date": "2013-03-30", "tilt": 1.44}, {"date": "2013-04-03", "tilt": 1.49},
      {"date": "2013-04-06", "tilt": 1.52}, {"date": "2013-04-10", "tilt": 1.45}, {"date": "2013-04-15", "tilt": 1.44}, {"date": "2013-04-21", "tilt": 1.45}, {"date": "2013-04-26", "tilt": 1.46}, {"date": "2013-05-03", "tilt": 1.47}, {"date": "2013-05-10", "tilt": 1.48}, {"date": "2013-05-17", "tilt": 1.47},
      {"date": "2013-05-24", "tilt": 1.48}, {"date": "2013-05-26", "tilt": 1.35}, {"date": "2013-05-27", "tilt": 1.48}, {"date": "2013-06-01", "tilt": 1.45}
    ],
    "kom": [
      {"date": "2012-05-30", "tilt": -0.04}, {"date": "2012-06-04", "tilt": 0.00}, {"date": "2012-06-09", "tilt": 0.04}, {"date": "2012-06-13", "tilt": 0.07}, {"date": "2012-06-17", "tilt": 0.10}, {"date": "2012-06-20", "tilt": 0.08}, {"date": "2012-06-22", "tilt": -0.05}, {"date": "2012-06-26", "tilt": -0.17},
      {"date": "2012-07-01", "tilt": -0.22}, {"date": "2012-07-07", "tilt": -0.27}, {"date": "2012-07-14", "tilt": -0.31}, {"date": "2012-07-20", "tilt": -0.29}, {"date": "2012-07-27", "tilt": -0.26}, {"date": "2012-08-03", "tilt": -0.22}, {"date": "2012-08-13", "tilt": -0.16}, {"date": "2012-08-21", "tilt": -0.10},
      {"date": "2012-08-30", "tilt": -0.04}, {"date": "2012-09-07", "tilt": 0.03}, {"date": "2012-09-13", "tilt": 0.07}, {"date": "2012-09-20", "tilt": 0.12}, {"date": "2012-09-27", "tilt": 0.17}, {"date": "2012-10-03", "tilt": 0.20}, {"date": "2012-10-10", "tilt": 0.23}, {"date": "2012-10-17", "tilt": 0.26},
      {"date": "2012-10-24", "tilt": 0.29}, {"date": "2012-11-01", "tilt": 0.32}, {"date": "2012-11-07", "tilt": 0.35}, {"date": "2012-11-13", "tilt": 0.38}, {"date": "2012-11-20", "tilt": 0.41}, {"date": "2012-11-27", "tilt": 0.43}, {"date": "2012-12-03", "tilt": 0.44}, {"date": "2012-12-04", "tilt": 0.68},
      {"date": "2012-12-05", "tilt": 0.45}, {"date": "2012-12-11", "tilt": 0.46}, {"date": "2012-12-18", "tilt": 0.48}, {"date": "2012-12-24", "tilt": 0.49}, {"date": "2012-12-31", "tilt": 0.51}, {"date": "2013-01-05", "tilt": 0.53}, {"date": "2013-01-08", "tilt": 0.52}, {"date": "2013-01-12", "tilt": 0.48},
      {"date": "2013-01-16", "tilt": 0.42}, {"date": "2013-01-20", "tilt": 0.34}, {"date": "2013-01-24", "tilt": 0.27}, {"date": "2013-01-29", "tilt": 0.20}, {"date": "2013-02-03", "tilt": 0.15}, {"date": "2013-02-07", "tilt": 0.11}, {"date": "2013-02-10", "tilt": 0.09}, {"date": "2013-02-12", "tilt": 0.20},
      {"date": "2013-02-14", "tilt": 0.22}, {"date": "2013-02-17", "tilt": 0.18}, {"date": "2013-02-20", "tilt": 0.12}, {"date": "2013-02-23", "tilt": 0.00}, {"date": "2013-02-27", "tilt": -0.17}, {"date": "2013-03-04", "tilt": -0.27}, {"date": "2013-03-09", "tilt": -0.34}, {"date": "2013-03-16", "tilt": -0.40},
      {"date": "2013-03-23", "tilt": -0.46}, {"date": "2013-03-30", "tilt": -0.55}, {"date": "2013-04-06", "tilt": -0.63}, {"date": "2013-04-09", "tilt": -0.58}, {"date": "2013-04-12", "tilt": -0.66}, {"date": "2013-04-19", "tilt": -0.69}, {"date": "2013-04-26", "tilt": -0.72}, {"date": "2013-05-03", "tilt": -0.75},
      {"date": "2013-05-10", "tilt": -0.78}, {"date": "2013-05-17", "tilt": -0.80}, {"date": "2013-05-23", "tilt": -0.83}, {"date": "2013-05-25", "tilt": -0.98}, {"date": "2013-05-27", "tilt": -0.84}, {"date": "2013-06-01", "tilt": -0.85}
    ],
    "precip": [
      {"date": "2012-01-03", "p": 37}, {"date": "2012-01-15", "p": 5}, {"date": "2012-02-07", "p": 27}, {"date": "2012-02-09", "p": 149}, {"date": "2012-02-14", "p": 8}, {"date": "2012-02-25", "p": 61}, {"date": "2012-02-28", "p": 56},
      {"date": "2012-03-02", "p": 47}, {"date": "2012-03-06", "p": 66}, {"date": "2012-03-09", "p": 37}, {"date": "2012-03-11", "p": 52}, {"date": "2012-03-18", "p": 47}, {"date": "2012-03-23", "p": 47}, {"date": "2012-03-26", "p": 37},
      {"date": "2012-04-02", "p": 42}, {"date": "2012-04-06", "p": 47}, {"date": "2012-04-12", "p": 42}, {"date": "2012-04-14", "p": 40}, {"date": "2012-04-18", "p": 10}, {"date": "2012-04-23", "p": 40}, {"date": "2012-04-28", "p": 47},
      {"date": "2012-05-04", "p": 298}, {"date": "2012-05-05", "p": 110}, {"date": "2012-05-10", "p": 13}, {"date": "2012-05-17", "p": 22}, {"date": "2012-05-19", "p": 27}, {"date": "2012-05-30", "p": 52},
      {"date": "2012-06-03", "p": 32}, {"date": "2012-06-06", "p": 37}, {"date": "2012-06-09", "p": 47}, {"date": "2012-06-15", "p": 42}, {"date": "2012-06-18", "p": 59}, {"date": "2012-06-20", "p": 232}, {"date": "2012-06-22", "p": 105}, {"date": "2012-06-24", "p": 22},
      {"date": "2012-07-03", "p": 47}, {"date": "2012-07-07", "p": 22}, {"date": "2012-07-14", "p": 66}, {"date": "2012-07-17", "p": 37}, {"date": "2012-07-20", "p": 17}, {"date": "2012-07-27", "p": 17},
      {"date": "2012-08-01", "p": 8}, {"date": "2012-08-08", "p": 22}, {"date": "2012-08-17", "p": 27}, {"date": "2012-08-25", "p": 6},
      {"date": "2012-09-03", "p": 76}, {"date": "2012-09-05", "p": 90}, {"date": "2012-09-07", "p": 37}, {"date": "2012-09-13", "p": 13}, {"date": "2012-09-20", "p": 27}, {"date": "2012-09-27", "p": 56},
      {"date": "2012-10-03", "p": 22}, {"date": "2012-10-10", "p": 13}, {"date": "2012-10-15", "p": 8}, {"date": "2012-10-24", "p": 52}, {"date": "2012-10-27", "p": 27},
      {"date": "2012-11-03", "p": 47}, {"date": "2012-11-07", "p": 22}, {"date": "2012-11-13", "p": 22}, {"date": "2012-11-20", "p": 32}, {"date": "2012-11-27", "p": 86},
      {"date": "2012-12-04", "p": 13}, {"date": "2012-12-11", "p": 8}, {"date": "2012-12-16", "p": 5}, {"date": "2012-12-21", "p": 17}, {"date": "2012-12-24", "p": 37}, {"date": "2012-12-31", "p": 71},
      {"date": "2013-01-04", "p": 32}, {"date": "2013-01-10", "p": 13}, {"date": "2013-01-17", "p": 61}, {"date": "2013-01-24", "p": 32},
      {"date": "2013-02-03", "p": 66}, {"date": "2013-02-07", "p": 22}, {"date": "2013-02-12", "p": 8}, {"date": "2013-02-17", "p": 47}, {"date": "2013-02-20", "p": 32},
      {"date": "2013-03-03", "p": 47}, {"date": "2013-03-09", "p": 37}, {"date": "2013-03-16", "p": 47}, {"date": "2013-03-23", "p": 32}, {"date": "2013-03-27", "p": 10}, {"date": "2013-03-30", "p": 37},
      {"date": "2013-04-02", "p": 81}, {"date": "2013-04-06", "p": 131}, {"date": "2013-04-09", "p": 27}, {"date": "2013-04-16", "p": 42}, {"date": "2013-04-23", "p": 32}, {"date": "2013-04-30", "p": 37},
      {"date": "2013-05-05", "p": 8}, {"date": "2013-05-13", "p": 115}, {"date": "2013-05-17", "p": 32}, {"date": "2013-05-23", "p": 27}, {"date": "2013-05-27", "p": 37},
      {"date": "2013-06-01", "p": 81}, {"date": "2013-06-06", "p": 22}, {"date": "2013-06-13", "p": 127}, {"date": "2013-06-16", "p": 71}, {"date": "2013-06-20", "p": 52}, {"date": "2013-06-23", "p": 37}, {"date": "2013-06-28", "p": 86},
      {"date": "2013-07-03", "p": 37}, {"date": "2013-07-05", "p": 100}, {"date": "2013-07-10", "p": 27}, {"date": "2013-07-17", "p": 15}, {"date": "2013-07-27", "p": 13},
      {"date": "2013-08-02", "p": 6}, {"date": "2013-08-07", "p": 22}, {"date": "2013-08-13", "p": 27}, {"date": "2013-08-20", "p": 32}, {"date": "2013-08-28", "p": 22},
      {"date": "2013-09-06", "p": 27}, {"date": "2013-09-10", "p": 10}, {"date": "2013-09-15", "p": 139}, {"date": "2013-09-20", "p": 37}, {"date": "2013-09-23", "p": 22}, {"date": "2013-09-30", "p": 22},
      {"date": "2013-10-07", "p": 47}, {"date": "2013-10-14", "p": 37}, {"date": "2013-10-17", "p": 118}, {"date": "2013-10-21", "p": 86}, {"date": "2013-10-24", "p": 52}, {"date": "2013-10-27", "p": 32},
      {"date": "2013-11-02", "p": 61}, {"date": "2013-11-07", "p": 32}, {"date": "2013-11-13", "p": 22}, {"date": "2013-11-18", "p": 8}, {"date": "2013-11-24", "p": 22},
      {"date": "2013-12-01", "p": 13}, {"date": "2013-12-07", "p": 32}, {"date": "2013-12-10", "p": 6}, {"date": "2013-12-14", "p": 22}, {"date": "2013-12-21", "p": 32}, {"date": "2013-12-28", "p": 17}
    ]
  },
  "vconcat": [
    {
      "width": 355,
      "height": 138,
      "title": {"text": "(a)", "offset": -26},
      "layer": [
        {
          "data": {"name": "pgv"},
          "mark": {"type": "bar", "width": 1.3, "color": "#7a7a7a"},
          "encoding": {
            "x": {"field": "date", "type": "temporal", "scale": {"type": "utc", "domain": [{"year": 2012, "month": 1, "date": 1, "utc": true}, {"year": 2014, "month": 1, "date": 1, "utc": true}]},
              "axis": {"orient": "bottom", "title": null, "tickCount": {"interval": "month", "step": 1}, "labelExpr": "utcyear(datum.value) > 2013 ? '' : utcFormat(datum.value, '%m')", "labelOffset": 7.4, "labelFlush": false, "labelOverlap": false, "labelFontSize": 8.5}},
            "y": {"field": "pgv", "type": "quantitative", "scale": {"domain": [0, 5], "nice": false},
              "axis": {"orient": "right", "values": [1, 2, 3, 4, 5], "title": ["Maximum peak ground", "velocity [cm/s]"], "titleAngle": -90, "titleBaseline": "top", "titleFontSize": 10.5, "titleLineHeight": 10.5, "titlePadding": 1}}
          }
        },
        {
          "data": {"name": "cum"},
          "mark": {"type": "line", "strokeWidth": 1.4},
          "encoding": {
            "x": {"field": "date", "type": "temporal", "axis": {"orient": "top", "title": null, "tickCount": {"interval": "month", "step": 1}, "labels": false}},
            "y": {"field": "n", "type": "quantitative", "scale": {"domain": [0, 3000], "nice": false, "zero": false},
              "axis": {"orient": "left", "values": [0, 500, 1000, 1500, 2000, 2500, 3000], "format": "d", "title": ["Cumulative number of", "earthquakes"]}},
            "color": {"datum": "Cumulative number of earthquakes", "type": "nominal",
              "scale": {"domain": ["Cumulative number of earthquakes", "Maximum peak ground velocities"], "range": ["black", "#7a7a7a"]},
              "legend": {"title": null, "legendX": 233, "legendY": 72,
                "labelExpr": "datum.label == 'Cumulative number of earthquakes' ? ['Cumulative number', 'of earthquakes'] : ['Maximum peak', 'ground velocities']",
                "encode": {"symbols": {"update": {"shape": {"signal": "datum.value == 'Maximum peak ground velocities' ? 'M-0.1,-0.34L0.1,-0.34L0.1,0.34L-0.1,0.34Z' : 'stroke'"}, "fill": {"signal": "datum.value == 'Maximum peak ground velocities' ? '#7a7a7a' : 'transparent'"}}}, "labels": {"update": {"lineHeight": {"value": 8.5}}}}}}
          }
        },
        {
          "data": {"name": "events"},
          "transform": [{"filter": "datum.event == 'onset'"}],
          "mark": {"type": "rule", "color": "#e8372b", "strokeDash": [4, 3], "strokeWidth": 1.3},
          "encoding": {"x": {"field": "date", "type": "temporal", "axis": null}, "y": {"datum": 3200, "type": "quantitative", "scale": {"domain": [0, 3000], "nice": false, "zero": false}, "axis": null}, "y2": {"datum": -380}}
        },
        {
          "data": {"name": "events"},
          "transform": [{"filter": "datum.event == 'swarm'"}],
          "mark": {"type": "rule", "color": "#3f6fc3", "strokeDash": [4, 3], "strokeWidth": 1.3},
          "encoding": {"x": {"field": "date", "type": "temporal", "axis": null}, "y": {"datum": 3290, "type": "quantitative", "scale": {"domain": [0, 3000], "nice": false, "zero": false}, "axis": null}, "y2": {"datum": -380}}
        },
        {
          "data": {"name": "events"},
          "transform": [{"filter": "datum.event == 'onset'"}],
          "mark": {"type": "point", "shape": "triangle-down", "filled": true, "size": 45, "color": "#e8372b", "opacity": 1},
          "encoding": {"x": {"field": "date", "type": "temporal", "axis": null}, "y": {"datum": 3075, "type": "quantitative", "scale": {"domain": [0, 3000], "nice": false, "zero": false}, "axis": null}}
        },
        {
          "data": {"name": "events"},
          "transform": [{"filter": "datum.event == 'swarm'"}],
          "mark": {"type": "point", "shape": "triangle-down", "filled": true, "size": 65, "color": "#3f6fc3", "opacity": 1},
          "encoding": {"x": {"field": "date", "type": "temporal", "axis": null}, "y": {"datum": 3095, "type": "quantitative", "scale": {"domain": [0, 3000], "nice": false, "zero": false}, "axis": null}}
        },
        {
          "data": {"name": "events"},
          "transform": [{"filter": "datum.event == 'onset'"}],
          "mark": {"type": "text", "color": "#e8372b", "fontSize": 12, "align": "right", "baseline": "middle", "dx": 25},
          "encoding": {"x": {"field": "date", "type": "temporal", "axis": null}, "y": {"datum": 3330, "type": "quantitative", "scale": {"domain": [0, 3000], "nice": false, "zero": false}, "axis": null}, "text": {"field": "label"}}
        },
        {
          "data": {"name": "events"},
          "transform": [{"filter": "datum.event == 'swarm'"}],
          "mark": {"type": "text", "color": "#3f6fc3", "fontSize": 11, "align": "left", "baseline": "middle", "dx": -6},
          "encoding": {"x": {"field": "date", "type": "temporal", "axis": null}, "y": {"datum": 3365, "type": "quantitative", "scale": {"domain": [0, 3000], "nice": false, "zero": false}, "axis": null}, "text": {"field": "label"}}
        },
        {
          "data": {"name": "notes"},
          "mark": {"type": "text", "color": "black", "fontSize": 7.5, "lineHeight": 8, "align": "left", "baseline": "top", "dx": -10},
          "encoding": {"x": {"field": "date", "type": "temporal", "axis": null}, "y": {"datum": 2935, "type": "quantitative", "scale": {"domain": [0, 3000], "nice": false, "zero": false}, "axis": null}, "text": {"field": "label"}}
        }
      ],
      "resolve": {"scale": {"y": "independent"}, "axis": {"x": "independent", "y": "independent"}}
    },
    {
      "width": 355,
      "height": 137,
      "title": {"text": "(b)", "offset": -19},
      "layer": [
        {
          "data": {"name": "base"},
          "mark": {"type": "circle", "size": 12, "color": "black", "opacity": 1},
          "encoding": {
            "x": {"field": "date", "type": "temporal", "scale": {"type": "utc", "domain": [{"year": 2012, "month": 1, "date": 1, "utc": true}, {"year": 2014, "month": 1, "date": 1, "utc": true}]},
              "axis": {"orient": "bottom", "title": null, "tickCount": {"interval": "month", "step": 1}, "labelExpr": "utcyear(datum.value) > 2013 ? '' : utcFormat(datum.value, '%m')", "labelOffset": 7.4, "labelFlush": false, "labelOverlap": false, "labelFontSize": 8.5}},
            "y": {"field": "v", "type": "quantitative", "scale": {"domain": [-0.02, 0.02], "nice": false, "zero": false},
              "axis": {"orient": "left", "values": [-0.02, -0.01, 0, 0.01, 0.02], "format": ".2f", "title": ["Temporal change of", "stacked baseline", "length [m]"]}}
          }
        },
        {
          "data": {"name": "events"},
          "transform": [{"filter": "datum.event == 'onset'"}],
          "mark": {"type": "rule", "color": "#e8372b", "strokeDash": [4, 3], "strokeWidth": 1.3},
          "encoding": {
            "x": {"field": "date", "type": "temporal", "axis": {"orient": "top", "title": null, "tickCount": {"interval": "month", "step": 1}, "labels": false}},
            "y": {"datum": 0.0216, "type": "quantitative", "axis": {"orient": "right", "values": [-0.02, -0.01, 0, 0.01, 0.02], "labels": false, "title": null}},
            "y2": {"datum": -0.0247}
          }
        },
        {
          "data": {"name": "events"},
          "transform": [{"filter": "datum.event == 'swarm'"}],
          "mark": {"type": "rule", "color": "#3f6fc3", "strokeDash": [4, 3], "strokeWidth": 1.3},
          "encoding": {"x": {"field": "date", "type": "temporal", "axis": null}, "y": {"datum": 0.0216, "type": "quantitative", "axis": null}, "y2": {"datum": -0.0247}}
        }
      ],
      "resolve": {"axis": {"x": "independent", "y": "independent"}}
    },
    {
      "width": 355,
      "height": 137,
      "title": {"text": "(c)", "offset": -18},
      "layer": [
        {
          "data": {"name": "precip"},
          "mark": {"type": "bar", "width": 1.3, "color": "#8a8a8a"},
          "encoding": {
            "x": {"field": "date", "type": "temporal", "scale": {"type": "utc", "domain": [{"year": 2012, "month": 1, "date": 1, "utc": true}, {"year": 2014, "month": 1, "date": 1, "utc": true}]},
              "axis": {"orient": "bottom", "title": null, "tickCount": {"interval": "month", "step": 1}, "labelExpr": "utcyear(datum.value) > 2013 ? '' : utcFormat(datum.value, '%m')", "labelOffset": 7.4, "labelFlush": false, "labelOverlap": false, "labelFontSize": 8.5}},
            "y": {"field": "p", "type": "quantitative", "scale": {"domain": [0, 400], "nice": false},
              "axis": {"orient": "right", "values": [0, 100, 200, 300, 400], "title": "Precipitation [mm/d]", "titleAngle": -90, "titleBaseline": "top", "titleFontSize": 11, "titlePadding": 2}}
          }
        },
        {
          "data": {"name": "kzy"},
          "mark": {"type": "line", "strokeWidth": 1.6},
          "encoding": {
            "x": {"field": "date", "type": "temporal", "axis": {"orient": "top", "title": null, "tickCount": {"interval": "month", "step": 1}, "labels": false}},
            "y": {"field": "tilt", "type": "quantitative", "scale": {"domain": [-2, 2], "nice": false, "zero": false},
              "axis": {"orient": "left", "values": [-2, -1.5, -1, -0.5, 0, 0.5, 1, 1.5, 2], "format": ".1f", "title": "Tilt change [µrad]"}},
            "color": {"datum": "Tilt change (KZY, N–S)", "type": "nominal",
              "scale": {"domain": ["Tilt change (KZY, N–S)", "Tilt change (KOM, E–W)", "Daily precipitation"], "range": ["#3f6fc3", "#e8372b", "#8a8a8a"]},
              "legend": {"title": null, "legendX": 230, "legendY": 26, "rowPadding": 5,
                "encode": {"symbols": {"update": {"shape": {"signal": "datum.value == 'Daily precipitation' ? 'M-0.1,-0.34L0.1,-0.34L0.1,0.34L-0.1,0.34Z' : 'stroke'"}, "fill": {"signal": "datum.value == 'Daily precipitation' ? '#8a8a8a' : 'transparent'"}}}}}}
          }
        },
        {
          "data": {"name": "kom"},
          "mark": {"type": "line", "strokeWidth": 1.6},
          "encoding": {
            "x": {"field": "date", "type": "temporal",
              "axis": {"orient": "bottom", "title": null, "values": [{"year": 2012, "month": 5, "date": 25, "utc": true}, {"year": 2013, "month": 7, "date": 29, "utc": true}], "format": "%Y", "ticks": false, "labelPadding": 22, "labelFontSize": 11, "labelFlush": false, "labelOverlap": false}},
            "y": {"field": "tilt", "type": "quantitative", "scale": {"domain": [-2, 2], "nice": false, "zero": false}, "axis": null},
            "color": {"datum": "Tilt change (KOM, E–W)", "type": "nominal"}
          }
        },
        {
          "data": {"name": "events"},
          "transform": [{"filter": "datum.event == 'onset'"}],
          "mark": {"type": "rule", "color": "#e8372b", "strokeDash": [4, 3], "strokeWidth": 1.3},
          "encoding": {"x": {"field": "date", "type": "temporal", "axis": null}, "y": {"datum": 2.155, "type": "quantitative", "scale": {"domain": [-2, 2], "nice": false, "zero": false}, "axis": null}, "y2": {"datum": -2}}
        },
        {
          "data": {"name": "events"},
          "transform": [{"filter": "datum.event == 'swarm'"}],
          "mark": {"type": "rule", "color": "#3f6fc3", "strokeDash": [4, 3], "strokeWidth": 1.3},
          "encoding": {"x": {"field": "date", "type": "temporal", "axis": null}, "y": {"datum": 2.155, "type": "quantitative", "scale": {"domain": [-2, 2], "nice": false, "zero": false}, "axis": null}, "y2": {"datum": -2}}
        }
      ],
      "resolve": {"scale": {"y": "independent"}, "axis": {"x": "independent", "y": "independent"}}
    }
  ],
  "spacing": 0,
  "resolve": {"scale": {"color": "independent"}, "legend": {"color": "independent"}}
}
